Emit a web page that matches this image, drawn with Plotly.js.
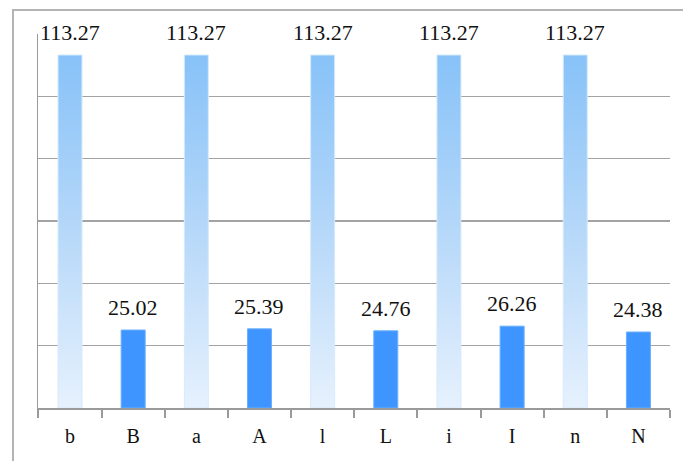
<!DOCTYPE html>
<html>
<head>
<meta charset="utf-8">
<script src="https://cdn.plot.ly/plotly-3.0.1.min.js"></script>
<style>
  html, body { margin: 0; padding: 0; background: #fff; }
  #wrap { position: relative; width: 683px; height: 461px; overflow: hidden; }
  #frame { position: absolute; left: 12px; top: 9px; width: 700px; height: 500px;
           border-left: 2px solid #b4b4b4; border-top: 2px solid #b4b4b4; box-sizing: border-box; pointer-events: none; }
  #chart { position: absolute; left: 0; top: 0; width: 683px; height: 461px; }
</style>
</head>
<body>
<div id="wrap">
  <div id="chart"></div>
  <div id="frame"></div>
</div>
<script>
const categories = ['b', 'B', 'a', 'A', 'l', 'L', 'i', 'I', 'n', 'N'];
const values = [113.27, 25.02, 113.27, 25.39, 113.27, 24.76, 113.27, 26.26, 113.27, 24.38];
const labels = ['113.27', '25.02', '113.27', '25.39', '113.27', '24.76', '113.27', '26.26', '113.27', '24.38'];
const isLight = [true, false, true, false, true, false, true, false, true, false];

const lightColor = '#a9d2f8';
const darkColor = '#3f95ff';
const serif = 'Liberation Serif';

const trace = {
  type: 'bar',
  x: categories,
  y: values,
  marker: {
    color: isLight.map(l => l ? lightColor : darkColor),
    line: { width: 1, color: isLight.map(l => l ? '#d6eafc' : '#6aaeff') }
  },
  hoverinfo: 'none'
};

const annotations = categories.map((c, i) => ({
  x: c, y: values[i], xref: 'x', yref: 'y',
  text: labels[i], showarrow: false, yanchor: 'bottom', yshift: 8,
  font: { family: serif, size: 22, color: '#111' }
}));

const layout = {
  width: 683, height: 461,
  margin: { l: 38, r: 13, t: 34, b: 53 },
  paper_bgcolor: 'rgba(0,0,0,0)',
  plot_bgcolor: '#fff',
  bargap: 0.62,
  showlegend: false,
  font: { family: serif, size: 18, color: '#111' },
  xaxis: {
    type: 'category',
    showline: true, linecolor: '#9a9a9a', linewidth: 2,
    ticks: 'outside', tickson: 'boundaries', ticklen: 8, tickcolor: '#9a9a9a', tickwidth: 2,
    ticklabelstandoff: 9,
    tickfont: { family: serif, size: 20, color: '#111' },
    showgrid: false, zeroline: false, fixedrange: true
  },
  yaxis: {
    range: [0, 120], dtick: 20,
    showticklabels: false, ticks: '',
    showline: true, linecolor: '#9a9a9a', linewidth: 1.5,
    showgrid: true, gridcolor: '#a3a3a3', gridwidth: 1.5,
    zeroline: false, fixedrange: true
  },
  annotations: annotations
};

Plotly.newPlot('chart', [trace], layout, { displayModeBar: false, staticPlot: true }).then(gd => {
  const svg = gd.querySelector('svg.main-svg');
  const ns = 'http://www.w3.org/2000/svg';
  let defs = svg.querySelector('defs');
  if (!defs) { defs = document.createElementNS(ns, 'defs'); svg.insertBefore(defs, svg.firstChild); }
  const grad = document.createElementNS(ns, 'linearGradient');
  grad.setAttribute('id', 'lightGrad');
  grad.setAttribute('x1', '0'); grad.setAttribute('y1', '0');
  grad.setAttribute('x2', '0'); grad.setAttribute('y2', '1');
  [['0', '#87c2f8'], ['0.5', '#b6d8f9'], ['1', '#e6f1fd']].forEach(([o, c]) => {
    const s = document.createElementNS(ns, 'stop');
    s.setAttribute('offset', o); s.setAttribute('stop-color', c);
    grad.appendChild(s);
  });
  defs.appendChild(grad);
  const paths = gd.querySelectorAll('.barlayer .point path');
  paths.forEach((p, i) => {
    if (isLight[i]) p.style.fill = 'url(#lightGrad)';
  });
});
</script>
</body>
</html>
